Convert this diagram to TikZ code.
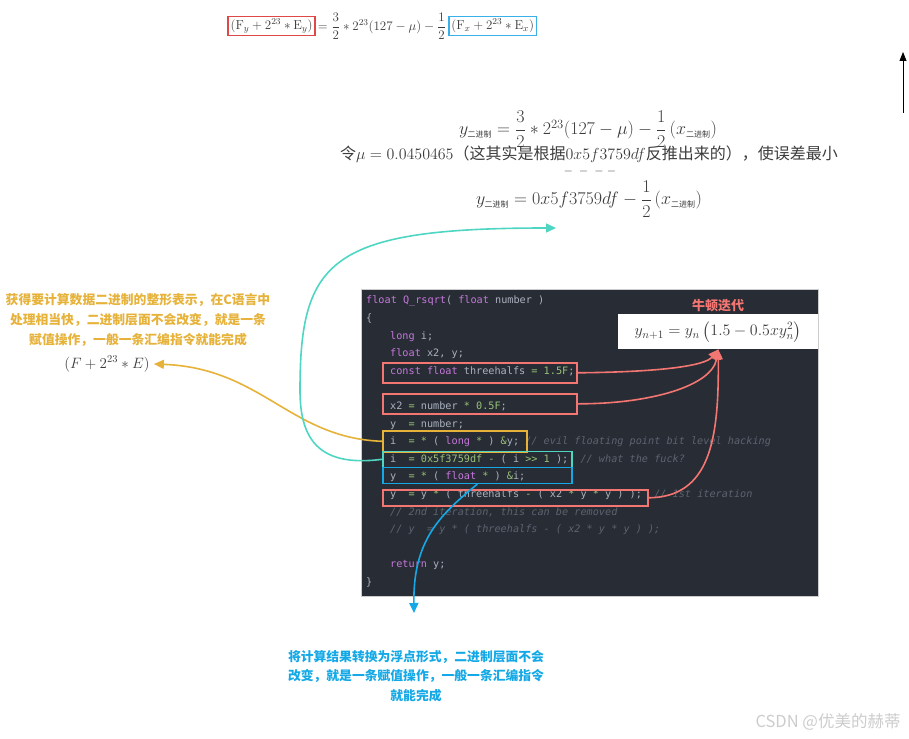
\RequirePackage{fix-cm}
\documentclass[tikz,border=0pt]{standalone}
\usepackage{amsmath}
\usepackage{fontspec}
\setmonofont{DejaVu Sans Mono}
\newfontfamily\cjk{Noto Sans CJK SC}
\usetikzlibrary{arrows.meta,calc}
\definecolor{codebg}{HTML}{282C34}
\definecolor{codefg}{HTML}{ABB2BF}
\definecolor{kwcol}{HTML}{C678DD}
\definecolor{numcol}{HTML}{98C379}
\definecolor{cmtcol}{HTML}{5C6370}
\definecolor{salmon}{HTML}{F47672}
\definecolor{gold}{HTML}{E6B23A}
\definecolor{tealc}{HTML}{4FD6C3}
\definecolor{skyblue}{HTML}{14A9E6}
\definecolor{mathgray}{HTML}{3C3C3C}
\definecolor{topred}{HTML}{E04848}
\definecolor{topblue}{HTML}{3AB0E8}
\newcommand\kw[1]{\textcolor{kwcol}{#1}}
\newcommand\nb[1]{\textcolor{numcol}{#1}}
\newcommand\cmt[1]{\textcolor{cmtcol}{\itshape #1}}
\newcommand\bin{\mbox{\cjk\fontsize{8}{9}\selectfont 二进制}}
\tikzset{
  codeline/.style={anchor=west,inner sep=0pt,text=codefg,font=\ttfamily\fontsize{10.2}{12}\selectfont},
  hlbox/.style={draw=#1,line width=1.6pt,anchor=north west,inner sep=0pt},
  conn/.style={draw=#1,line width=1.6pt,-{Triangle[length=10pt,width=9pt]}},
  note/.style={align=center,text=#1,font=\cjk\bfseries\fontsize{12.8}{20}\selectfont},
  mathtext/.style={text=mathgray,inner sep=0pt}
}
\begin{document}
\begin{tikzpicture}[x=1pt,y=-1pt]
\useasboundingbox (0,0) rectangle (909,738);
%top formula
\node[mathtext,draw=topred,line width=1.5pt,inner sep=2.5pt,font=\fontsize{13}{15}\selectfont] (fyhi) at (271.5,26) {$(\mathrm{F}_y+2^{23}*\mathrm{E}_y)$};
\node[mathtext,anchor=west,font=\fontsize{13}{15}\selectfont] (fmid) at ($(fyhi.east)+(2,0)$) {$=\dfrac{3}{2}*2^{23}(127-\mu)-\dfrac{1}{2}$};
\node[mathtext,draw=topblue,line width=1.5pt,inner sep=2.5pt,anchor=west,font=\fontsize{13}{15}\selectfont] (fxhi) at ($(fmid.east)+(2,0)$) {$(\mathrm{F}_x+2^{23}*\mathrm{E}_x)$};
\coordinate (upfrom) at (903,113);
\coordinate (upto) at (903,52);
\draw[line width=0.8pt,-{Triangle[length=9pt,width=7pt]}] (upfrom) -- (upto);
%derivation
\node[mathtext,font=\fontsize{18}{20}\selectfont] (ybin) at (588,129) {$y_{\bin}=\dfrac{3}{2}*2^{23}(127-\mu)-\dfrac{1}{2}\left(x_{\bin}\right)$};
\node[mathtext,font=\cjk\fontsize{16}{18}\selectfont] (mu) at (589,154) {令$\mu=0.0450465$（这其实是根据$0x5f3759df$反推出来的），使误差最小};
\node[mathtext,font=\fontsize{12}{14}\selectfont] (dash) at (590,172) {$-\;-\;-\;-$};
\node[mathtext,font=\fontsize{18}{20}\selectfont] (ymagic) at (589,199) {$y_{\bin}=0x5f3759df-\dfrac{1}{2}\left(x_{\bin}\right)$};
%code
\fill[codebg,draw=gray!40] (361,289) rectangle (818,596);
\node[codeline] (l0) at (366,301) {\kw{float} \kw{Q\_rsqrt}( \kw{float} number )};
\node[codeline] (l1) at (366,318.6) {\{};
\node[codeline] (l2) at (390,336.2) {\kw{long} i;};
\node[codeline] (l3) at (390,353.8) {\kw{float} x2, y;};
\node[codeline] (l4) at (390,371.4) {\kw{const} \kw{float} threehalfs \nb{=} \nb{1.5F};};
\node[codeline] (l6) at (390,406.6) {x2 \nb{=} number \nb{*} \nb{0.5F};};
\node[codeline] (l7) at (390,424.2) {y~~\nb{=} number;};
\node[codeline] (l8) at (390,441.8) {i~~\nb{=} \nb{*} ( \kw{long} \nb{*} ) \nb{\&}y; \cmt{// evil floating point bit level hacking}};
\node[codeline] (l9) at (390,459.4) {i~~\nb{=} \nb{0x5f3759df} \nb{-} ( i \nb{>>} \nb{1} );~~\cmt{// what the fuck?}};
\node[codeline] (l10) at (390,477) {y~~\nb{=} \nb{*} ( \kw{float} \nb{*} ) \nb{\&}i;};
\node[codeline] (l11) at (390,494.6) {y~~\nb{=} y \nb{*} ( threehalfs \nb{-} ( x2 \nb{*} y \nb{*} y ) );~~\cmt{// 1st iteration}};
\node[codeline] (l12) at (390,512.2) {\cmt{// 2nd iteration, this can be removed}};
\node[codeline] (l13) at (390,529.8) {\cmt{// y~~= y * ( threehalfs - ( x2 * y * y ) );}};
\node[codeline] (l15) at (390,565) {\kw{return} y;};
\node[codeline] (l16) at (366,582.6) {\}};
%highlight boxes
\node[hlbox=salmon,minimum width=194pt,minimum height=20pt] (bconst) at (382,362) {};
\node[hlbox=salmon,minimum width=194pt,minimum height=20pt] (bx2) at (382,393) {};
\node[hlbox=gold,minimum width=144pt,minimum height=21pt] (byel) at (382,430) {};
\node[hlbox=tealc,minimum width=189pt,minimum height=16pt] (bteal) at (382,450.5) {};
\node[hlbox=skyblue,minimum width=189pt,minimum height=16pt] (bblue) at (382,466.5) {};
\node[hlbox=salmon,minimum width=265pt,minimum height=16pt] (by) at (382,489) {};
%newton
\node[fill=white,anchor=north west,minimum width=200pt,minimum height=35pt,inner sep=0pt] (newton) at (618,314) {};
\node[mathtext,font=\fontsize{16}{18}\selectfont] (newtonf) at (newton.center) {$y_{n+1}=y_n\left(1.5-0.5xy_n^2\right)$};
\node[text=salmon,font=\cjk\bfseries\fontsize{13}{15}\selectfont] (newtitle) at (718,306) {牛顿迭代};
\draw[conn=salmon] (bconst.east) .. controls (660,372) and (705,366) .. (newton.south);
\draw[conn=salmon] (bx2.east) .. controls (650,404) and (712,386) .. (newton.south);
\draw[conn=salmon] (by.east) .. controls (710,497) and (719,440) .. (newton.south);
%notes
\node[note=gold] (intnote) at (138,320) {获得要计算数据二进制的整形表示，在C语言中\\处理相当快，二进制层面不会改变，就是一条\\赋值操作，一般一条汇编指令就能完成};
\node[mathtext,font=\fontsize{15}{17}\selectfont] (fe) at (107,364) {$(F+2^{23}*E)$};
\draw[conn=gold] (byel.west) .. controls (290,438) and (262,368) .. ($(fe.east)+(4,0)$);
\coordinate (tealend) at (556,228);
\draw[conn=tealc] (bteal.west) .. controls (315,468) and (300,435) .. (300,390) .. controls (300,260) and (330,228) .. (tealend);
\coordinate (blueend) at (414,613);
\draw[conn=skyblue] (bblue.south) .. controls (440,515) and (413,540) .. (blueend);
\node[note=skyblue,font=\cjk\bfseries\fontsize{12.8}{19.5}\selectfont] (floatnote) at (416,676) {将计算结果转换为浮点形式，二进制层面不会\\改变，就是一条赋值操作，一般一条汇编指令\\就能完成};
\node[text=gray!40,font=\cjk\fontsize{16.5}{18}\selectfont] (wm) at (828,722) {CSDN @优美的赫蒂};
\end{tikzpicture}
\end{document}
